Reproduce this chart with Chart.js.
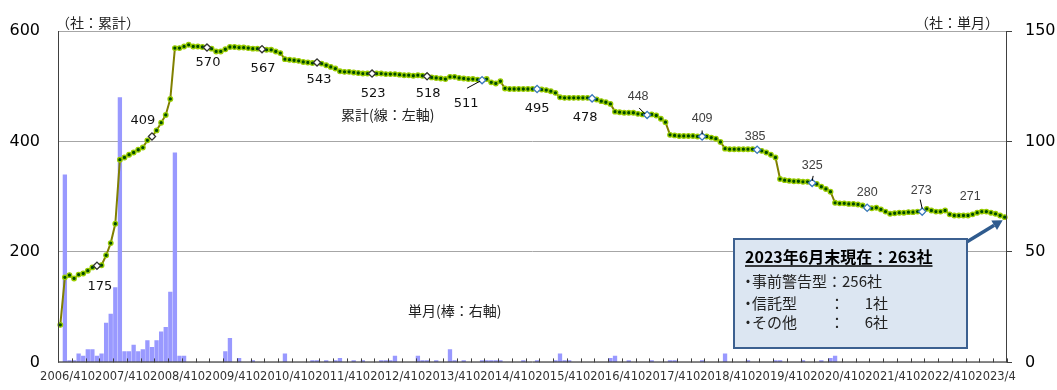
<!DOCTYPE html>
<html><head><meta charset="utf-8">
<script src="https://cdn.jsdelivr.net/npm/chart.js@4.4.1/dist/chart.umd.min.js"></script>
<style>html,body{margin:0;padding:0;background:#fff;overflow:hidden}#wrap{width:1057px;height:390px}</style>
</head><body><div id="wrap"><canvas id="c" width="1057" height="390"></canvas></div>
<script>
// ---- data (monthly, 2006/4 .. 2023/6) ----
const START_YEAR = 2006, START_MONTH = 4;

// cumulative number of companies (line, left axis)
const cumulative = [
  68,154,158,152,159,161,166,172,175,176,194,216,          // FY2006
  251,367,371,376,380,385,389,402,409,420,434,448,         // FY2007
  477,569,569,572,575,572,572,571,570,568,563,563,         // FY2008
  567,571,571,570,570,569,568,568,567,566,566,563,         // FY2009
  560,549,548,547,546,544,543,542,543,541,538,535,         // FY2010
  532,527,526,526,525,524,523,523,523,523,523,522,         // FY2011
  522,522,521,520,520,519,520,519,518,516,515,514,         // FY2012
  513,517,517,515,514,513,513,512,511,513,507,505,         // FY2013
  509,496,495,495,495,495,495,495,495,494,493,491,         // FY2014
  488,480,479,479,479,479,479,479,478,476,473,471,         // FY2015
  468,454,453,452,452,452,450,449,448,449,447,441,         // FY2016
  435,412,411,410,410,410,410,409,409,409,407,405,         // FY2017
  399,387,386,386,386,386,386,386,385,383,380,376,         // FY2018
  371,332,330,329,328,328,327,327,325,323,318,314,         // FY2019
  309,289,288,288,287,287,286,284,280,279,280,277,         // FY2020
  273,269,270,271,271,272,272,273,273,278,275,273,         // FY2021
  273,275,268,266,266,266,266,268,271,273,273,271,         // FY2022
  269,266,263                                              // FY2023
];

// new companies in the month (bars, right axis)
const monthlyNew = [
  0,85,1,1,4,3,6,6,3,4,18,22,        // FY2006
  34,120,5,5,8,5,6,10,7,10,14,16,    // FY2007
  32,95,3,3,0,0,0,0,0,0,0,0,         // FY2008
  5,11,0,2,0,0,1,0,0,0,0,0,          // FY2009
  0,4,0,0,0,0,0,1,1,0,1,0,           // FY2010
  1,2,0,0,1,0,1,0,0,0,1,1,           // FY2011
  1,3,0,0,0,0,3,1,1,0,1,0,           // FY2012
  0,6,1,0,1,0,0,0,1,1,1,1,           // FY2013
  1,0,0,0,0,1,0,0,1,0,0,0,           // FY2014
  1,4,1,1,0,0,0,0,0,0,0,0,           // FY2015
  2,3,0,0,1,0,0,0,0,1,0,0,           // FY2016
  0,1,1,0,0,0,0,0,1,0,0,0,           // FY2017
  0,4,0,0,0,0,1,0,0,0,0,0,           // FY2018
  1,1,0,0,0,0,1,0,0,0,1,0,           // FY2019
  2,3,0,0,0,0,0,0,0,0,0,0,           // FY2020
  0,0,0,0,0,0,0,0,0,0,0,0,           // FY2021
  0,0,0,0,0,0,0,0,0,0,0,0,           // FY2022
  0,0,0                              // FY2023
];

const leftTicks = [0, 200, 400, 600];
const rightTicks = [0, 50, 100, 150];

// category labels: "2006/4", "2006/5", ...
const categories = [];
for (let k = 0; k < cumulative.length; k++) {
  const t = START_MONTH - 1 + k;
  categories.push((START_YEAR + Math.floor(t / 12)) + '/' + (t % 12 + 1));
}
function tickText(cat) {
  const m = cat.split('/')[1];
  if (m === '4') return cat;
  if (m === '10') return '10';
  return '';
}

// December markers (indices with value labels)
const markerIdx = [8,20,32,44,56,68,80,92,104,116,128,140,152,164,176,188];
const labelIdx = markerIdx.concat([200]);

// ---- styles for value labels (offsets in px from the point) ----
const labelStyle = {
  8:{dx:3,dy:21}, 20:{dx:-9,dy:-16}, 32:{dx:1,dy:15}, 44:{dx:1,dy:19},
  56:{dx:2,dy:17}, 68:{dx:1,dy:20}, 80:{dx:1,dy:17},
  92:{dx:-16,dy:23,leader:[-15,8,-2,1]},
  104:{dx:0,dy:20}, 116:{dx:-7,dy:19},
  128:{dx:-9,dy:-18,small:true,leader:[-8,-7,-2,-1]},
  140:{dx:0,dy:-18,small:true,leader:[0,-6,0,-2]},
  152:{dx:-2,dy:-13,small:true},
  164:{dx:0,dy:-17,small:true,leader:[1,-7,0,-2]},
  176:{dx:0,dy:-15,small:true},
  188:{dx:-1,dy:-21,small:true,leader:[-2,-12,0,-3]},
  200:{dx:-7,dy:-16,small:true}
};
const darkMarkerMax = 80;

const markerData = cumulative.map((v, i) => markerIdx.includes(i) ? v : null);

const CJK = '"Noto Sans CJK JP", "Noto Sans CJK SC", sans-serif';

const overlay = {
  id: 'overlay',
  afterDatasetsDraw(chart) {
    const ctx = chart.ctx;
    const a = chart.chartArea;
    const xs = chart.scales.x;
    const cw = xs.getPixelForValue(1) - xs.getPixelForValue(0);
    ctx.save();
    // plot border
    ctx.lineWidth = 1;
    ctx.strokeStyle = '#A6A6A6';
    ctx.beginPath(); ctx.moveTo(a.left, a.top + 0.5); ctx.lineTo(a.right, a.top + 0.5); ctx.stroke();
    ctx.strokeStyle = '#404040';
    ctx.beginPath();
    ctx.moveTo(a.left + 0.5, a.top); ctx.lineTo(a.left + 0.5, a.bottom);
    ctx.moveTo(a.left, a.bottom - 0.5); ctx.lineTo(a.right, a.bottom - 0.5);
    ctx.moveTo(a.right - 0.5, a.top); ctx.lineTo(a.right - 0.5, a.bottom);
    ctx.stroke();
    // inner tick marks every 3 months
    ctx.beginPath();
    for (let i = 0; i <= categories.length; i += 3) {
      const x = Math.round(xs.getPixelForValue(Math.min(i, categories.length - 1)) + (i < categories.length ? -cw / 2 : cw / 2)) + 0.5;
      ctx.moveTo(x, a.bottom); ctx.lineTo(x, a.bottom - 4);
    }
    ctx.stroke();

    // value labels
    const meta = chart.getDatasetMeta(0);
    labelIdx.forEach(i => {
      const s = labelStyle[i];
      const p = meta.data[i];
      if (!p) return;
      if (s.leader) {
        ctx.strokeStyle = '#000';
        ctx.lineWidth = 1;
        ctx.beginPath();
        ctx.moveTo(p.x + s.leader[0], p.y + s.leader[1]);
        ctx.lineTo(p.x + s.leader[2], p.y + s.leader[3]);
        ctx.stroke();
      }
      ctx.textAlign = 'center';
      ctx.textBaseline = 'middle';
      if (s.small) {
        ctx.font = '12.5px "Liberation Sans", Arial, sans-serif';
        ctx.fillStyle = '#404040';
      } else {
        ctx.font = '13px "DejaVu Sans", Verdana, sans-serif';
        ctx.fillStyle = '#111';
      }
      ctx.fillText(String(cumulative[i]), p.x + s.dx, p.y + s.dy);
    });

    // axis titles and series notes
    ctx.fillStyle = '#222';
    ctx.font = '14px ' + CJK;
    ctx.textBaseline = 'middle';
    ctx.textAlign = 'left';
    ctx.fillText('（社：累計）', a.left - 2, 23);
    ctx.textAlign = 'right';
    ctx.fillText('（社：単月）', a.right - 8, 23);
    ctx.textAlign = 'left';
    ctx.fillText('累計(線：左軸)', 341, 115);
    ctx.fillText('単月(棒：右軸)', 408, 311);

    // arrow from the box to the last point
    const last = meta.data[meta.data.length - 1];
    const bx = 734, by = 239, bw = 233, bh = 109;
    const sx = bx + bw - 2, sy = by + 4;
    const ex = last.x - 2, ey = last.y + 3;
    const ang = Math.atan2(ey - sy, ex - sx);
    const hl = 10, hw = 5.5;
    const hx = ex - Math.cos(ang) * hl, hy = ey - Math.sin(ang) * hl;
    ctx.strokeStyle = '#2F5B8E';
    ctx.fillStyle = '#2F5B8E';
    ctx.lineWidth = 3.5;
    ctx.beginPath(); ctx.moveTo(sx, sy); ctx.lineTo(hx, hy); ctx.stroke();
    ctx.beginPath();
    ctx.moveTo(ex, ey);
    ctx.lineTo(hx + Math.sin(ang) * hw, hy - Math.cos(ang) * hw);
    ctx.lineTo(hx - Math.sin(ang) * hw, hy + Math.cos(ang) * hw);
    ctx.closePath(); ctx.fill();

    // annotation box
    ctx.fillStyle = '#DCE6F2';
    ctx.fillRect(bx, by, bw, bh);
    ctx.strokeStyle = '#3C6090';
    ctx.lineWidth = 2;
    ctx.strokeRect(bx, by, bw, bh);
    ctx.fillStyle = '#000';
    ctx.textAlign = 'left';
    ctx.font = 'bold 16px ' + CJK;
    const title = '2023年6月末現在：263社';
    ctx.fillText(title, 745, 257);
    const tw = ctx.measureText(title).width;
    ctx.lineWidth = 1.5;
    ctx.strokeStyle = '#000';
    ctx.beginPath(); ctx.moveTo(745, 266); ctx.lineTo(745 + tw, 266); ctx.stroke();
    ctx.font = '15px ' + CJK;
    ctx.fillStyle = '#222';
    const rows = [['事前警告型', '256', 281], ['信託型', '1', 303], ['その他', '6', 322]];
    rows.forEach((r, k) => {
      ctx.textAlign = 'center';
      ctx.fillText('・', 748, r[2]);
      ctx.textAlign = 'left';
      if (k === 0) {
        ctx.fillText(r[0] + '：' + r[1] + '社', 752, r[2]);
        return;
      }
      ctx.fillText(r[0], 752, r[2]);
      ctx.textAlign = 'center';
      ctx.fillText('：', 837, r[2]);
      ctx.textAlign = 'right';
      ctx.fillText(r[1], 873, r[2]);
      ctx.textAlign = 'left';
      ctx.fillText('社', 873, r[2]);
    });
    ctx.restore();
  }
};

new Chart(document.getElementById('c'), {
  type: 'bar',
  data: {
    labels: categories,
    datasets: [
      {
        type: 'line',
        label: '累計',
        data: cumulative,
        yAxisID: 'y',
        borderColor: '#808000',
        borderWidth: 2,
        pointRadius: 2.3,
        pointBorderWidth: 1.3,
        pointBackgroundColor: '#004A00',
        pointBorderColor: '#99CC00',
        tension: 0,
        order: 1
      },
      {
        type: 'line',
        label: 'marker',
        data: markerData,
        yAxisID: 'y',
        showLine: false,
        pointStyle: 'rectRot',
        pointRadius: 3.6,
        pointBorderWidth: 1.3,
        pointBackgroundColor: '#FFFFFF',
        pointBorderColor: ctx => ctx.dataIndex <= darkMarkerMax ? '#333333' : '#3A78C0',
        order: 0
      },
      {
        type: 'bar',
        label: '単月',
        data: monthlyNew,
        yAxisID: 'y1',
        backgroundColor: '#9999FF',
        barPercentage: 0.94,
        categoryPercentage: 1.0,
        order: 2
      }
    ]
  },
  options: {
    responsive: false,
    animation: false,
    devicePixelRatio: 1,
    layout: { padding: { top: 31, left: 0, right: 0, bottom: 0 } },
    plugins: { legend: { display: false }, tooltip: { enabled: false } },
    scales: {
      x: {
        type: 'category',
        offset: true,
        grid: { display: false, drawTicks: false },
        border: { display: false },
        ticks: {
          autoSkip: false, maxRotation: 0, minRotation: 0, padding: 8,
          color: '#333',
          font: { family: '"DejaVu Sans", Verdana, sans-serif', size: 11.5 },
          callback: function (v, i) { return tickText(categories[i]); }
        },
        afterFit: s => { s.height = 23; }
      },
      y: {
        position: 'left',
        min: leftTicks[0], max: leftTicks[leftTicks.length - 1],
        afterBuildTicks: s => { s.ticks = leftTicks.map(v => ({ value: v })); },
        grid: { color: '#A6A6A6', drawTicks: false },
        border: { display: false },
        ticks: { padding: 18, color: '#000', font: { family: '"DejaVu Sans", Verdana, sans-serif', size: 16 } },
        afterFit: s => { s.width = 58; }
      },
      y1: {
        position: 'right',
        min: rightTicks[0], max: rightTicks[rightTicks.length - 1],
        afterBuildTicks: s => { s.ticks = rightTicks.map(v => ({ value: v })); },
        grid: { drawOnChartArea: false, drawTicks: true, tickLength: 5, color: '#404040' },
        border: { display: false },
        ticks: { padding: 13, color: '#000', font: { family: '"DejaVu Sans", Verdana, sans-serif', size: 16 } },
        afterFit: s => { s.width = 50; }
      }
    }
  },
  plugins: [overlay]
});
</script>
</body></html>
